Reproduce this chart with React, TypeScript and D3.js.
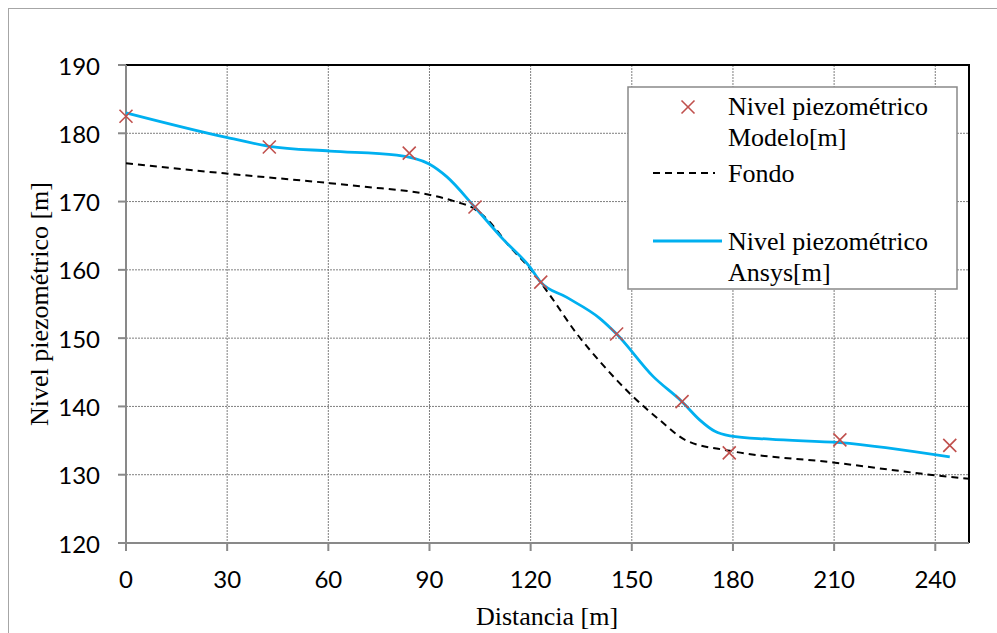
import React from "react";
import * as d3 from "d3";

const xTicks = [0, 30, 60, 90, 120, 150, 180, 210, 240];
const yTicks = [120, 130, 140, 150, 160, 170, 180, 190];

const modeloX = [0, 42.5, 84.0, 103.5, 123.0, 145.5, 164.9, 178.9, 211.7, 244.3];
const modeloY = [182.5, 178.0, 177.1, 169.2, 158.2, 150.6, 140.7, 133.2, 135.1, 134.3];

const ansysX = [0, 29.8, 42.5, 60.5, 80.3, 89.9, 95.1, 103.4, 111.8, 119.8, 123, 130.6, 140.5, 145.5, 156.3, 164.9, 170.2, 174.5, 179.1, 190.9, 211.7, 244.3];
const ansysY = [183.0, 179.4, 178.1, 177.4, 176.8, 175.5, 173.65, 169.2, 164.5, 160.4, 158.2, 156.0, 152.9, 150.6, 144.4, 140.7, 138.0, 136.4, 135.7, 135.2, 134.7, 132.6];

const fondoX = [0, 29.8, 60.5, 70.4, 89.9, 97, 103.4, 107.3, 113.8, 119.8, 125.7, 133.6, 140.5, 149.4, 158.3, 166.2, 179.1, 209.7, 240.3, 250];
const fondoY = [175.6, 174.1, 172.7, 172.2, 171.0, 170.1, 168.9, 167.3, 163.4, 160.2, 156.3, 150.7, 146.6, 141.9, 138.0, 135.0, 133.5, 131.8, 129.9, 129.4];

const legendLabels = ["Nivel piezométrico", "Modelo[m]", "Fondo", "Nivel piezométrico", "Ansys[m]"];

export default function App() {
  const W = 997, H = 633;
  const left = 126, right = 969, top = 65, bottom = 543;
  const x = d3.scaleLinear().domain([0, 250]).range([left, right]);
  const y = d3.scaleLinear().domain([120, 190]).range([bottom, top]);

  const line = d3
    .line<[number, number]>()
    .x((d) => x(d[0]))
    .y((d) => y(d[1]))
    .curve(d3.curveMonotoneX);

  const ansys = ansysX.map((v, i) => [v, ansysY[i]] as [number, number]);
  const fondo = fondoX.map((v, i) => [v, fondoY[i]] as [number, number]);

  const axisColor = "#898989";
  const gridColor = "#7f7f7f";
  const serif = "'Liberation Serif', 'Times New Roman', serif";
  const sans = "Lato, 'Noto Sans', sans-serif";
  const red = "#c0504d";
  const blue = "#00b0f0";
  const ms = 6.5;

  const cross = (cx: number, cy: number, key: string) => (
    <g key={key} stroke={red} strokeWidth={1.6}>
      <line x1={cx - ms} y1={cy - ms} x2={cx + ms} y2={cy + ms} />
      <line x1={cx - ms} y1={cy + ms} x2={cx + ms} y2={cy - ms} />
    </g>
  );

  return (
    <svg
      width={W}
      height={H}
      style={{ position: "absolute", left: 0, top: 0, display: "block", background: "#fff" }}
    >
      <rect x={0} y={0} width={W} height={H} fill="#fff" />
      <rect x={8.5} y={8.5} width={1100} height={800} fill="none" stroke="#a6a6a6" strokeWidth={1} />

      {/* gridlines */}
      {yTicks.filter((t) => t > 120 && t < 190).map((t) => (
        <line key={"gy" + t} x1={left} x2={right} y1={y(t)} y2={y(t)} stroke={gridColor} strokeWidth={1} strokeDasharray="2,1" />
      ))}
      {xTicks.filter((t) => t > 0).map((t) => (
        <line key={"gx" + t} x1={x(t)} x2={x(t)} y1={top} y2={bottom} stroke={gridColor} strokeWidth={1} strokeDasharray="2,1" />
      ))}

      {/* top and right border */}
      <line x1={left} x2={right + 1} y1={top} y2={top} stroke="#000" strokeWidth={2} />
      <line x1={right} x2={right} y1={top} y2={bottom} stroke="#000" strokeWidth={2} />

      {/* axes */}
      <line x1={left} x2={left} y1={top} y2={bottom + 1} stroke={axisColor} strokeWidth={2} />
      <line x1={left - 1} x2={right} y1={bottom} y2={bottom} stroke={axisColor} strokeWidth={2} />
      {yTicks.map((t) => (
        <g key={"ty" + t}>
          <line x1={left - 8} x2={left} y1={y(t)} y2={y(t)} stroke={axisColor} strokeWidth={2} />
          <text x={100} y={y(t)} textAnchor="end" dominantBaseline="central" fontFamily={sans} fontSize={24} fill="#000">
            {t}
          </text>
        </g>
      ))}
      {xTicks.map((t) => (
        <g key={"tx" + t}>
          <line x1={x(t)} x2={x(t)} y1={bottom} y2={bottom + 8} stroke={axisColor} strokeWidth={2} />
          <text x={x(t)} y={578} textAnchor="middle" dominantBaseline="central" fontFamily={sans} fontSize={24} fill="#000">
            {t}
          </text>
        </g>
      ))}

      {/* series */}
      <path d={line(fondo) || ""} fill="none" stroke="#000" strokeWidth={2} strokeDasharray="7,5" />
      <path d={line(ansys) || ""} fill="none" stroke={blue} strokeWidth={2.8} />
      {modeloX.map((v, i) => cross(x(v), y(modeloY[i]), "m" + i))}

      {/* axis titles */}
      <text x={547} y={625} textAnchor="middle" fontFamily={serif} fontSize={26} fill="#000">
        Distancia [m]
      </text>
      <text
        transform={`translate(48, ${(top + bottom) / 2}) rotate(-90)`}
        textAnchor="middle"
        fontFamily={serif}
        fontSize={26}
        fill="#000"
      >
        Nivel piezométrico [m]
      </text>

      {/* legend */}
      <rect x={628} y={87} width={329} height={202} fill="#fff" stroke="#898989" strokeWidth={1.5} />
      {cross(688, 107, "leg")}
      <line x1={653} x2={715} y1={173} y2={173} stroke="#000" strokeWidth={2} strokeDasharray="7,5" />
      <line x1={653} x2={722} y1={241} y2={241} stroke={blue} strokeWidth={2.8} />
      <g fontFamily={serif} fontSize={26} fill="#000">
        <text x={728} y={115}>{legendLabels[0]}</text>
        <text x={728} y={146}>{legendLabels[1]}</text>
        <text x={728} y={182}>{legendLabels[2]}</text>
        <text x={728} y={250}>{legendLabels[3]}</text>
        <text x={728} y={281}>{legendLabels[4]}</text>
      </g>
    </svg>
  );
}
